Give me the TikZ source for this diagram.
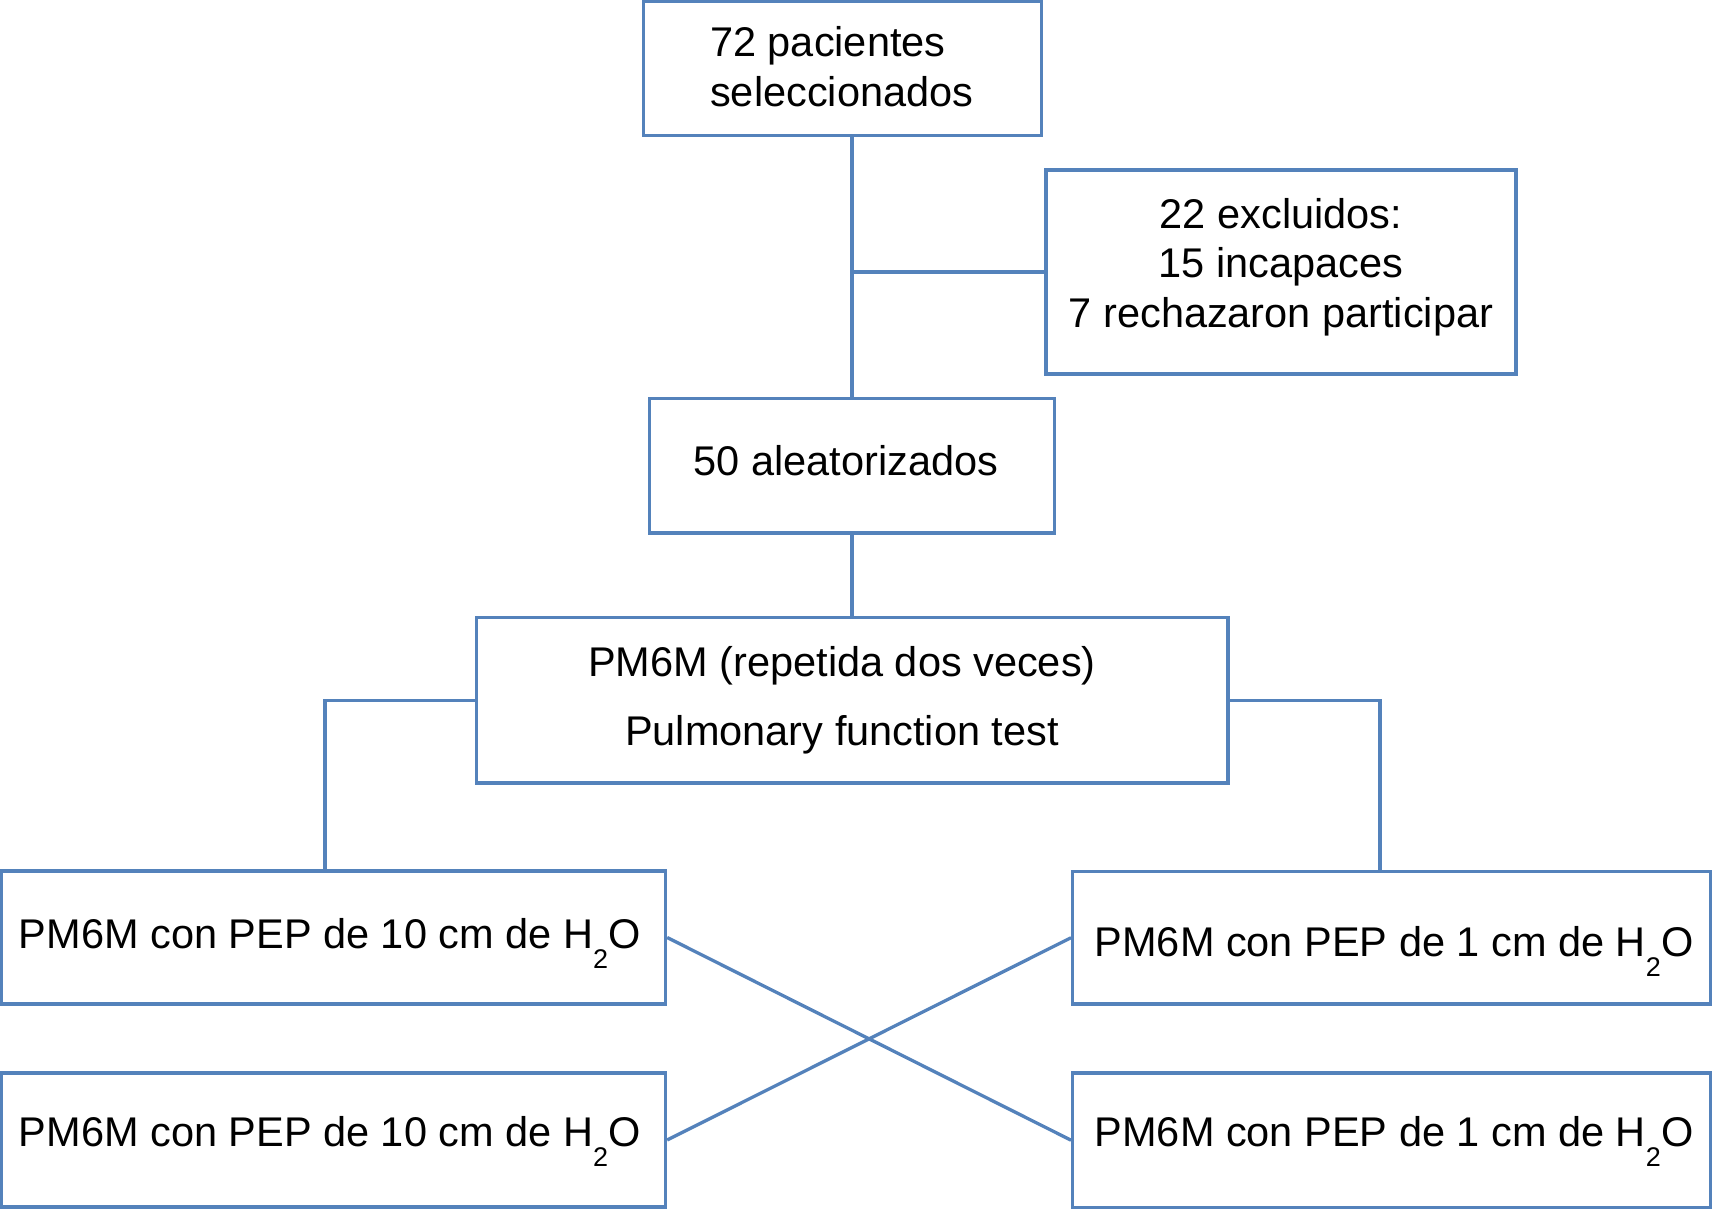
\documentclass[tikz,border=0pt]{standalone}
\usepackage{fontspec}
\setmainfont{Liberation Sans}
\definecolor{boxblue}{RGB}{84,130,187}
\newcommand{\hto}{H\raisebox{-20pt}{\fontsize{27}{27}\selectfont 2}O}
\begin{document}
\begin{tikzpicture}[x=1pt,y=-1pt,
  box/.style={draw=boxblue,line width=3.3pt,inner sep=0pt,minimum width=#1},
  lbl/.style={inner sep=0pt,font=\fontsize{41.5}{50}\selectfont,text=black},
  conn/.style={draw=boxblue,line width=3.3pt}]
\useasboundingbox (0,0) rectangle (1712,1209);
% boxes
\node[box=398.4,minimum height=134] (top) at (842.5,68.7) {};
\node[box=470,minimum height=204] (excl) at (1281,272) {};
\node[box=405,minimum height=134.3] (rand) at (852,465.9) {};
\node[box=751.5,minimum height=165.3] (pm) at (852.25,700.3) {};
\node[box=664,minimum height=133] (lt) at (333.5,937.5) {};
\node[box=637.8,minimum height=132.5] (rt) at (1391.6,937.7) {};
\node[box=664,minimum height=134] (lb) at (333.5,1140) {};
\node[box=637.8,minimum height=134.5] (rb) at (1391.6,1140.2) {};
% texts
\node[lbl,anchor=base west] (t1a) at (710,57) {72 pacientes};
\node[lbl,anchor=base west] (t1b) at (710,107) {seleccionados};
\node[lbl,anchor=base] (t2a) at (1281,228) {22 excluidos:};
\node[lbl,anchor=base] (t2b) at (1281,277.7) {15 incapaces};
\node[lbl,anchor=base] (t2c) at (1281,327.7) {7 rechazaron participar};
\node[lbl,anchor=base] (t3) at (846,475) {50 aleatorizados};
\node[lbl,anchor=base] (t4a) at (842,676) {PM6M (repetida dos veces)};
\node[lbl,anchor=base] (t4b) at (842,745.7) {Pulmonary function test};
\node[lbl,anchor=base] (t5) at (329.7,948) {PM6M con PEP de 10 cm de \hto};
\node[lbl,anchor=base] (t6) at (1394,956.7) {PM6M con PEP de 1 cm de \hto};
\node[lbl,anchor=base] (t7) at (329.7,1146.7) {PM6M con PEP de 10 cm de \hto};
\node[lbl,anchor=base] (t8) at (1394,1146.7) {PM6M con PEP de 1 cm de \hto};
% connectors
\coordinate (lbx) at (325,0);
\coordinate (rbx) at (1380,0);
\draw[conn] (top.south -| rand.north) -- (rand.north);
\draw[conn] (excl.west) -- (excl.west -| rand.north);
\draw[conn] (rand.south) -- (rand.south |- pm.north);
\draw[conn] (pm.west) -| (lbx |- lt.north);
\draw[conn] (pm.east) -| (rbx |- rt.north);
\draw[conn] (lt.east) -- (rb.west);
\draw[conn] (lb.east) -- (rt.west);
\end{tikzpicture}
\end{document}
